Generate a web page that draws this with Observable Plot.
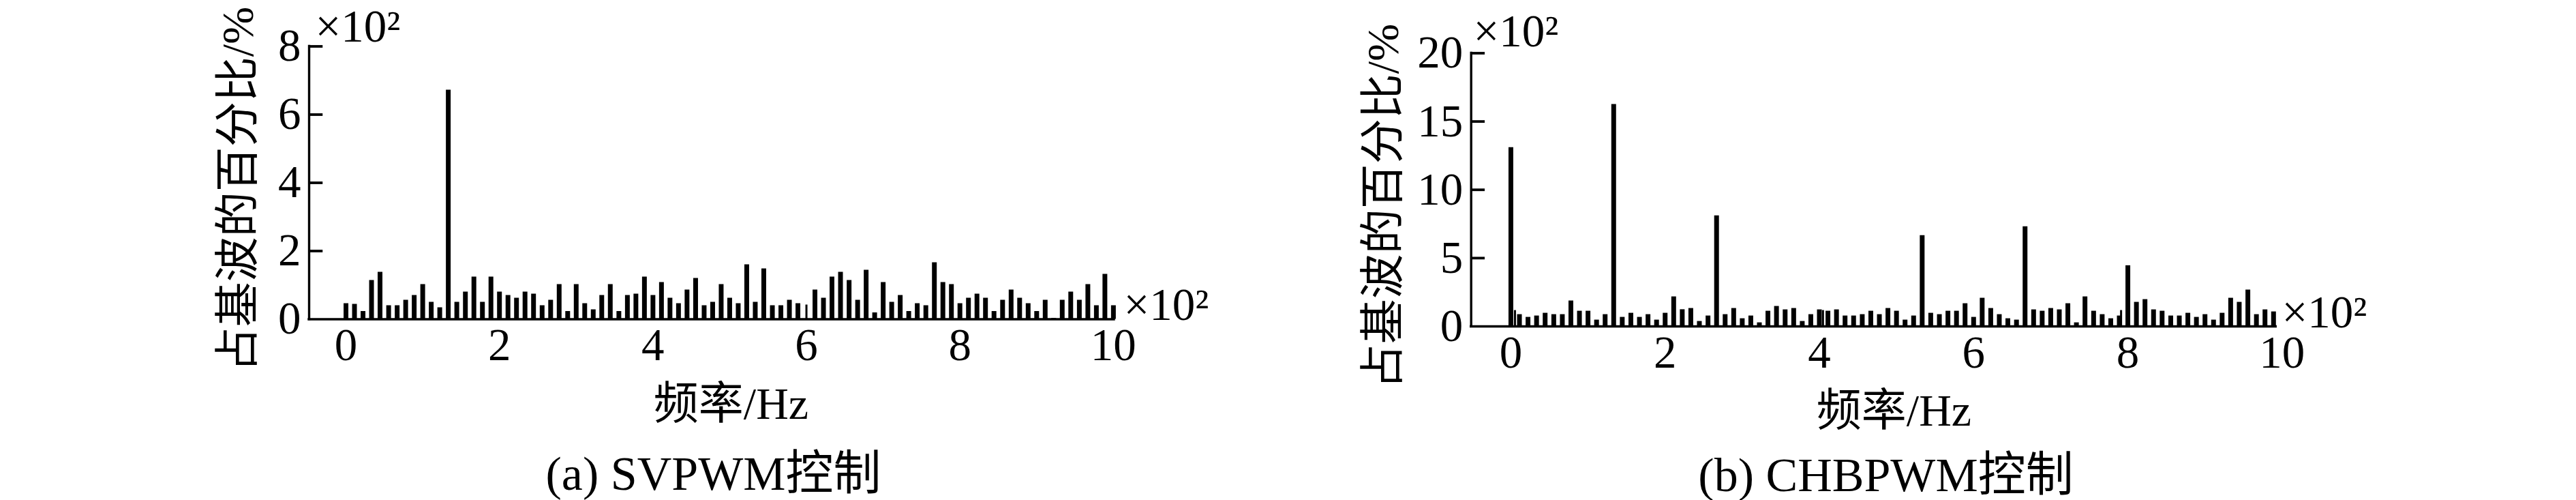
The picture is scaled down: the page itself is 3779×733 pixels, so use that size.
<!DOCTYPE html>
<html><head><meta charset="utf-8">
<script src="https://cdn.jsdelivr.net/npm/d3@7"></script>
<script src="https://cdn.jsdelivr.net/npm/@observablehq/plot@0.6"></script>
<style>
html,body{margin:0;padding:0;background:#fff;}
#wrap{position:relative;width:3779px;height:733px;overflow:hidden;background:#fff;}
#wrap svg{position:absolute;top:0;}
</style></head><body><div id="wrap"></div>
<script>
// harmonic frequencies (Hz)
const freqs = [0,11.1,22.2,33.3,44.4,55.6,66.7,77.8,88.9,
  100,111.1,122.2,133.3,144.4,155.6,166.7,177.8,188.9,
  200,211.1,222.2,233.3,244.4,255.6,266.7,277.8,288.9,
  300,311.1,322.2,333.3,344.4,355.6,366.7,377.8,388.9,
  400,411.1,422.2,433.3,444.4,455.6,466.7,477.8,488.9,
  500,511.1,522.2,533.3,544.4,555.6,566.7,577.8,588.9,
  600,611.1,622.2,633.3,644.4,655.6,666.7,677.8,688.9,
  700,711.1,722.2,733.3,744.4,755.6,766.7,777.8,788.9,
  800,811.1,822.2,833.3,844.4,855.6,866.7,877.8,888.9,
  900,911.1,922.2,933.3,944.4,955.6,966.7,977.8,988.9,
  1000];

// (a) SVPWM, percent of fundamental (x10^2)
const svpwmValues = [0.46,0.44,0.23,1.14,1.38,0.40,0.40,0.56,0.70,1.02,
  0.50,0.34,6.72,0.50,0.80,1.24,0.50,1.24,0.80,0.70,
  0.62,0.80,0.74,0.40,0.56,1.02,0.23,1.02,0.46,0.28,
  0.70,1.02,0.23,0.70,0.74,1.24,0.70,1.08,0.62,0.46,
  0.86,1.20,0.40,0.50,1.02,0.62,0.46,1.60,0.50,1.48,
  0.40,0.40,0.56,0.46,null,0.86,0.62,1.24,1.38,1.14,
  0.56,1.44,0.19,1.08,0.50,0.70,0.23,0.46,0.40,1.66,
  1.08,1.02,0.46,0.62,0.74,0.62,0.23,0.56,0.86,0.62,
  0.46,0.23,0.56,0.03,0.56,0.80,0.56,1.02,0.40,1.32,
  0.40];
const svpwmThinFreqs = [600];
const svpwmThinValues = [0.42];

// (b) CHBPWM
const chbpwmValues = [13.1,0.87,0.67,0.77,0.97,0.87,0.87,1.87,1.12,1.12,
  0.47,0.87,16.25,0.67,0.97,0.67,0.87,0.47,0.97,2.17,
  1.23,1.32,0.37,0.77,8.1,0.87,1.32,0.57,0.77,0.27,
  1.12,1.47,1.22,1.32,0.37,0.87,1.22,1.12,1.22,0.77,
  0.77,0.87,1.12,0.87,1.32,1.12,0.47,0.77,6.65,0.97,
  0.87,1.12,1.12,1.67,0.67,2.07,1.32,0.87,0.57,0.47,
  7.3,1.22,1.12,1.32,1.22,1.67,0.27,2.17,1.12,0.87,
  0.57,0.77,4.45,1.77,1.97,1.22,1.12,0.77,0.77,0.97,
  0.67,0.87,0.47,0.97,2.07,1.77,2.67,0.87,1.22,1.07];
const chbpwmThinFreqs = [5.3,404.7,791.2];
const chbpwmThinValues = [1.17,1.17,1.17];

const xTickValues = [0,200,400,600,800,1000];
const xTickLabels = ["0","2","4","6","8","10"];
const yTicksA = [0,2,4,6,8];
const yTicksB = [0,5,10,15,20];
const yLabel = "占基波的百分比/%";
const xLabel = "频率/Hz";
const unitLabel = "×10²";
const captionA = "(a) SVPWM控制";
const captionB = "(b) CHBPWM控制";

const FONT = "'Liberation Serif','Noto Sans CJK SC',serif";

function zipBars(fs, vs) {
  return vs.map((v, i) => ({f: fs[i], v})).filter(d => d.v != null);
}

function panel(c) {
  const yMax = c.yTicks[c.yTicks.length - 1];
  const x0 = c.xDomain[0];
  return Plot.plot({
    width: c.width, height: 733,
    marginLeft: c.m[0], marginRight: c.m[1], marginTop: c.m[2], marginBottom: c.m[3],
    style: {fontFamily: FONT, fontSize: "67px", background: "transparent", color: "#000"},
    x: {domain: c.xDomain},
    y: {domain: [0, yMax]},
    marks: [
      Plot.ruleX(c.bars, {x: "f", y1: 0, y2: "v", stroke: "#000", strokeWidth: 7}),
      Plot.ruleX(c.thin, {x: "f", y1: 0, y2: "v", stroke: "#000", strokeWidth: 3}),
      Plot.ruleY([0], {stroke: "#000", strokeWidth: 3.4, strokeLinecap: "square"}),
      Plot.ruleX([x0], {y1: 0, y2: yMax, stroke: "#000", strokeWidth: 3.4, strokeLinecap: "square"}),
      Plot.ruleY(c.yTicks.slice(1), {x1: x0, x2: x0 + 18, stroke: "#000", strokeWidth: 3.8}),
      Plot.axisY({ticks: c.yTicks, tickSize: 0, tickPadding: 12, label: null, fontSize: 67}),
      Plot.axisX({ticks: xTickValues, tickSize: 0, tickPadding: c.xPad, label: null, fontSize: 67,
        tickFormat: d => xTickLabels[xTickValues.indexOf(d)]}),
      Plot.text([unitLabel], {frameAnchor: "top-left", textAnchor: "start", lineAnchor: "bottom",
        dx: c.unitTL[0], dy: c.unitTL[1], fontSize: 67}),
      Plot.text([unitLabel], {frameAnchor: "bottom-right", textAnchor: "start", lineAnchor: "bottom",
        dx: c.unitBR[0], dy: c.unitBR[1], fontSize: 67}),
      Plot.text([yLabel], {frameAnchor: "left", rotate: -90, textAnchor: "middle", lineAnchor: "middle",
        dx: c.yLab[0], dy: c.yLab[1], fontSize: 66}),
      Plot.text([xLabel], {frameAnchor: "bottom", textAnchor: "middle", lineAnchor: "bottom",
        dx: c.xLab[0], dy: c.xLab[1], fontSize: 66}),
      Plot.text([c.caption], {frameAnchor: "bottom", textAnchor: "middle", lineAnchor: "bottom",
        dx: c.cap[0], dy: c.cap[1], fontSize: 70})
    ]
  });
}

const wrap = document.getElementById("wrap");

const svgA = panel({
  width: 1890, m: [453, 256, 67.5, 265.5],
  xDomain: [-48, 1001], yTicks: yTicksA, xPad: 12,
  bars: zipBars(freqs, svpwmValues),
  thin: zipBars(svpwmThinFreqs, svpwmThinValues),
  unitTL: [9, -7], unitBR: [14, 1],
  yLab: [-104, 9.5], xLab: [28.5, 145.5], cap: [2.5, 249.5],
  caption: captionA
});
svgA.style.left = "0px";
wrap.appendChild(svgA);

const svgB = panel({
  width: 1889, m: [267.7, 440.7, 77.5, 255],
  xDomain: [-51.5, 992], yTicks: yTicksB, xPad: 13,
  bars: zipBars(freqs, chbpwmValues),
  thin: zipBars(chbpwmThinFreqs, chbpwmThinValues),
  unitTL: [3.3, -10.5], unitBR: [8.7, 1],
  yLab: [-128.7, 24.25], xLab: [30, 145], cap: [18, 241],
  caption: captionB
});
svgB.style.left = "1890px";
wrap.appendChild(svgB);
</script>
</body></html>
